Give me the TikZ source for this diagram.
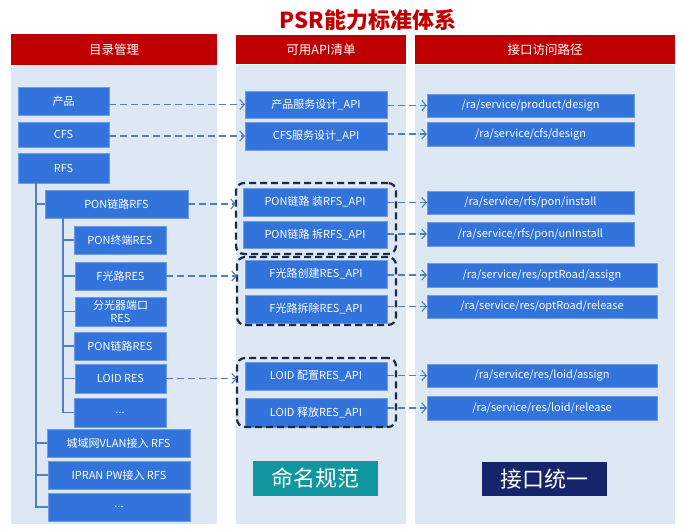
\documentclass[tikz,border=0pt]{standalone}
\usepackage{fontspec}
\setmainfont{Noto Sans CJK SC}
\usetikzlibrary{arrows.meta}
\definecolor{hdr}{HTML}{C00000}
\definecolor{panelc}{HTML}{DEE8F4}
\definecolor{boxb}{HTML}{3273DC}
\definecolor{boxedge}{HTML}{6E9BE6}
\definecolor{arrc}{HTML}{4F7FBF}
\definecolor{grpc}{HTML}{1B2A47}
\definecolor{tealbox}{HTML}{10969F}
\definecolor{navyb}{HTML}{16246B}
\newcommand\bx[7][box]{\node[#1,minimum width={(#5-#3)*1pt},minimum height={(#6-#4)*1pt}] (#2) at ({(#3+#5)/2},{-(#4+#6)/2}) {#7};}
\begin{document}
\begin{tikzpicture}[x=1pt,y=1pt,
  base/.style={inner sep=0pt,outer sep=0pt,anchor=center},
  box/.style={base,fill=boxb,draw=boxedge,line width=0.6pt,text=white,font=\fontsize{11}{12.5}\selectfont},
  panelbox/.style={base,fill=panelc},
  hdrbox/.style={base,fill=hdr,text=white,font=\fontsize{12.5}{14}\selectfont},
  grp/.style={base,draw=grpc,line width=2.2pt,dash pattern=on 7pt off 4pt,rounded corners=8pt},
  bigt/.style={base,text=white,font=\fontsize{22}{24}\selectfont},
  tree/.style={draw=arrc,line width=1.6pt},
  arrow/.style={draw=arrc,line width=1.1pt,dash pattern=on 7pt off 4pt,-{Straight Barb[length=4.5pt,width=10pt]}}]
\useasboundingbox (0,0) rectangle (688,-532);
% title
\node[base,text=hdr,font=\fontsize{22}{24}\selectfont\bfseries] (title) at (368,-20) {PSR能力标准体系};
% panels
\bx[panelbox]{pn1}{11}{65}{217}{524}{}
\bx[panelbox]{pn2}{236}{65}{406}{524}{}
\bx[panelbox]{pn3}{415}{65}{675}{524}{}
\bx[hdrbox]{h1}{11}{34}{217}{65}{目录管理}
\bx[hdrbox]{h2}{236}{35}{406}{64}{可用API清单}
\bx[hdrbox]{h3}{415}{35}{675}{64}{接口访问路径}
% column 1
\bx{prod}{18}{87}{109}{115}{产品}
\bx{cfs}{18}{122}{109}{147}{CFS}
\bx{rfs}{18}{153}{109}{183}{RFS}
\bx{ponrfs}{45}{190}{188}{218}{PON链路RFS}
\bx{ponzd}{74}{226}{166}{254}{PON终端RES}
\bx{fgl}{75}{262}{166}{290}{F光路RES}
\bx[box,align=center]{fgq}{75}{297}{166}{326}{分光器端口\\RES}
\bx{ponll}{74}{332}{166}{360}{PON链路RES}
\bx{loid}{75}{364}{166}{393}{LOID RES}
\bx{dotsa}{74}{398}{166}{427}{...}
\bx{vlan}{47}{429}{190}{457}{城域网VLAN接入 RFS}
\bx{ipran}{48}{461}{190}{489}{IPRAN PW接入 RFS}
\bx{dotsb}{48}{493}{190}{521}{...}
% tree
\coordinate (t1) at ([xshift=18pt]rfs.south west);
\draw[tree] (t1) |- (dotsb.west);
\draw[tree] (t1 |- ponrfs.west) -- (ponrfs.west);
\draw[tree] (t1 |- vlan.west) -- (vlan.west);
\draw[tree] (t1 |- ipran.west) -- (ipran.west);
\coordinate (t2) at ([xshift=18pt]ponrfs.south west);
\draw[tree] (t2) |- (dotsa.west);
\draw[tree] (t2 |- ponzd.west) -- (ponzd.west);
\draw[tree] (t2 |- fgl.west) -- (fgl.west);
\draw[tree] (t2 |- fgq.west) -- (fgq.west);
\draw[tree] (t2 |- ponll.west) -- (ponll.west);
\draw[tree] (t2 |- loid.west) -- (loid.west);
% column 2
\bx{a1}{245}{91}{387}{118}{产品服务设计\_API}
\bx{a2}{245}{122}{387}{150}{CFS服务设计\_API}
\bx{a3}{243}{188}{387}{216}{PON链路 装RFS\_API}
\bx{a4}{243}{221}{387}{248}{PON链路 拆RFS\_API}
\bx{a5}{245}{260}{387}{288}{F光路创建RES\_API}
\bx{a6}{245}{295}{387}{323}{F光路拆除RES\_API}
\bx{a7}{245}{362}{387}{390}{LOID 配置RES\_API}
\bx{a8}{245}{398}{387}{427}{LOID 释放RES\_API}
\bx[grp]{g1}{236}{183}{396}{254}{}
\bx[grp]{g2}{237}{257}{396}{325}{}
\bx[grp]{g3}{237}{358}{396}{427}{}
% column 3
\bx{r1}{427}{94}{634}{117}{/ra/service/product/design}
\bx{r2}{427}{122}{634}{146}{/ra/service/cfs/design}
\bx{r3}{427}{191}{634}{214}{/ra/service/rfs/pon/install}
\bx{r4}{427}{222}{634}{246}{/ra/service/rfs/pon/unInstall}
\bx{r5}{427}{263}{657}{287}{/ra/service/res/optRoad/assign}
\bx{r6}{427}{295}{657}{318}{/ra/service/res/optRoad/release}
\bx{r7}{427}{364}{657}{387}{/ra/service/res/loid/assign}
\bx{r8}{427}{396}{657}{420}{/ra/service/res/loid/release}
% bottom labels
\bx[bigt,fill=tealbox]{nm}{253}{461}{378}{496}{命名规范}
\bx[bigt,fill=navyb]{jk}{482}{462}{607}{496}{接口统一}
% arrows col1 -> col2
\draw[arrow] (a1.west -| prod.east) -- (a1.west);
\draw[arrow] (a2.west -| cfs.east) -- (a2.west);
\draw[arrow] (ponrfs.east) -- (ponrfs.east -| g1.west);
\draw[arrow] (fgl.east) -- (fgl.east -| g2.west);
\draw[arrow] (loid.east) -- (loid.east -| g3.west);
% arrows col2 -> col3
\draw[arrow] (r1.west -| a1.east) -- (r1.west);
\draw[arrow] (r2.west -| a2.east) -- (r2.west);
\draw[arrow] (r3.west -| a3.east) -- (r3.west);
\draw[arrow] (r4.west -| a4.east) -- (r4.west);
\draw[arrow] (r5.west -| a5.east) -- (r5.west);
\draw[arrow] (r6.west -| a6.east) -- (r6.west);
\draw[arrow] (r7.west -| a7.east) -- (r7.west);
\draw[arrow] (r8.west -| a8.east) -- (r8.west);
\end{tikzpicture}
\end{document}
